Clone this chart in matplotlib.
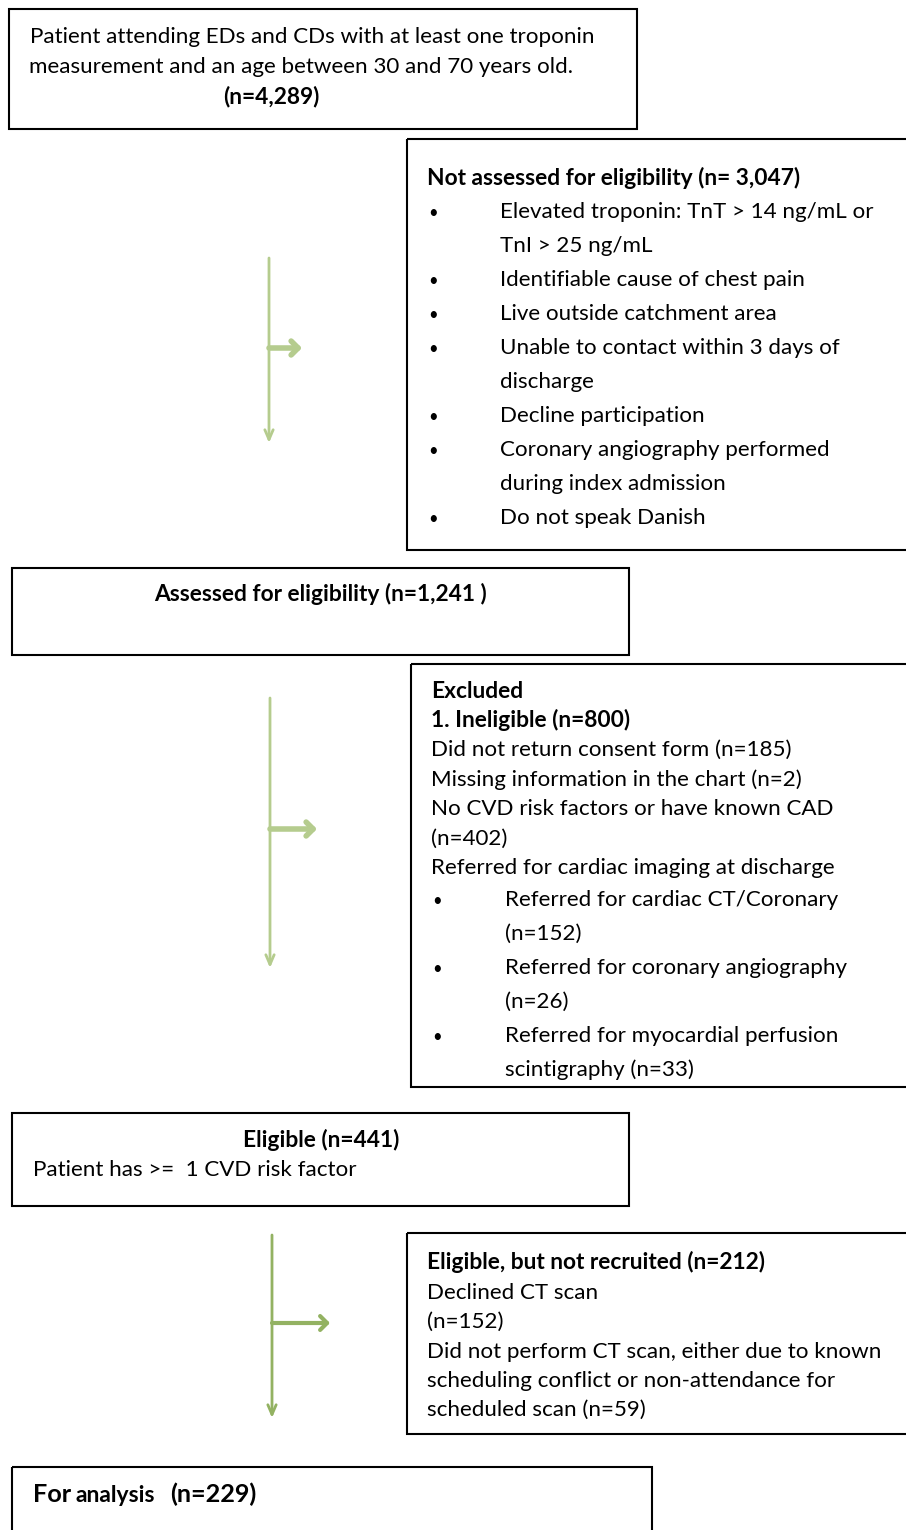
import matplotlib
matplotlib.use("Agg")
import matplotlib.pyplot as plt
from matplotlib.patches import Rectangle, FancyArrowPatch

plt.rcParams['font.family'] = ['Lato', 'DejaVu Sans']

# ---- data (flowchart counts and texts) ----
n_total = "4,289"
n_not_assessed = "3,047"
n_assessed = "1,241"
n_ineligible = "800"
n_eligible = "441"
n_not_recruited = "212"
n_analysis = "229"

box1_lines = ["Patient attending EDs and CDs with at least one troponin",
              "measurement and an age between 30 and 70 years old."]
box2_items = [["Elevated troponin: TnT > 14 ng/mL or", "TnI > 25 ng/mL"],
              ["Identifiable cause of chest pain"],
              ["Live outside catchment area"],
              ["Unable to contact within 3 days of", "discharge"],
              ["Decline participation"],
              ["Coronary angiography performed", "during index admission"],
              ["Do not speak Danish"]]
box4_lines = ["Did not return consent form (n=185)",
              "Missing information in the chart (n=2)",
              "No CVD risk factors or have known CAD",
              "(n=402)",
              "Referred for cardiac imaging at discharge"]
box4_items = [["Referred for cardiac CT/Coronary", "(n=152)"],
              ["Referred for coronary angiography", "(n=26)"],
              ["Referred for myocardial perfusion", "scintigraphy (n=33)"]]
box6_lines = ["Declined CT scan", "(n=152)",
              "Did not perform CT scan, either due to known",
              "scheduling conflict or non-attendance for",
              "scheduled scan (n=59)"]

W, H = 906, 1530
fig = plt.figure(figsize=(W / 100, H / 100), dpi=100)
ax = fig.add_axes([0, 0, 1, 1])
ax.set_xlim(0, W)
ax.set_ylim(H, 0)
ax.axis('off')

FS = 16.15
FSB = 16.4
LW = 1.5

def box(x0, y0, x1, y1):
    ax.add_patch(Rectangle((x0, y0), x1 - x0, y1 - y0, fill=False,
                           edgecolor='black', linewidth=LW, clip_on=False))

def txt(x, y, s, bold=False, ha='left', size=None):
    if size is None:
        size = FSB if bold else FS
    ax.text(x, y, s, ha=ha, va='baseline', fontsize=size,
            fontweight='bold' if bold else 'normal', color='black')

def bullet(x, y):
    ax.text(x, y, "\u2022", ha='left', va='baseline', fontsize=12, color='black')

def flow_arrow(x, y0, y1, yb, xb, color, lw_v, lw_h):
    ax.add_patch(FancyArrowPatch((x, y0), (x, y1), arrowstyle='->,head_length=7,head_width=3',
                                 color=color, linewidth=lw_v, mutation_scale=1,
                                 shrinkA=0, shrinkB=0))
    ax.add_patch(FancyArrowPatch((x, yb), (xb, yb), arrowstyle='->,head_length=5,head_width=5',
                                 color=color, linewidth=lw_h, mutation_scale=1,
                                 shrinkA=0, shrinkB=0))

# Box 1
box(9, 9, 637, 129)
txt(30, 43, box1_lines[0])
txt(29, 73, box1_lines[1])
txt(271, 103, f"(n={n_total})", bold=True, ha='center')

# Box 2
box(407, 139, 912, 550)
txt(427, 185, f"Not assessed for eligibility (n= {n_not_assessed})", bold=True)
y = 218
for item in box2_items:
    bullet(428, y)
    for k, line in enumerate(item):
        txt(500, y, line)
        y += 34
flow_arrow(269, 258, 443, 348, 302, '#b5cc8e', 2.0, 4.0)

# Box 3
box(12, 568, 629, 655)
txt(321, 601, f"Assessed for eligibility (n={n_assessed} )", bold=True, ha='center')

# Box 4
box(411, 664, 912, 1087)
txt(431, 698, "Excluded", bold=True)
txt(431, 727, f"1. Ineligible (n={n_ineligible})", bold=True)
y = 756
for line in box4_lines:
    txt(431, y, line)
    y += 29.5
y = 906
for item in box4_items:
    bullet(432, y)
    for line in item:
        txt(505, y, line)
        y += 34
flow_arrow(270, 698, 968, 829, 317, '#b5cc8e', 2.0, 4.0)

# Box 5
box(12, 1113, 629, 1206)
txt(321, 1147, f"Eligible (n={n_eligible})", bold=True, ha='center')
txt(33, 1176, "Patient has >=  1 CVD risk factor")

# Box 6
box(407, 1233, 912, 1434)
txt(427, 1269, f"Eligible, but not recruited (n={n_not_recruited})", bold=True)
y = 1299
for line in box6_lines:
    txt(427, y, line)
    y += 29.3
flow_arrow(272, 1235, 1418, 1323, 330, '#93b262', 2.0, 3.0)

# Box 7
box(12, 1467, 652, 1545)
ax.text(33, 1502, "For", ha='left', va='baseline', fontsize=18.2, fontweight='bold')
ax.text(75, 1502, "analysis", ha='left', va='baseline', fontsize=16.5, fontweight='bold')
ax.text(170, 1502, f"(n={n_analysis})", ha='left', va='baseline', fontsize=18.2, fontweight='bold')

fig.savefig("out.png", dpi=100)
